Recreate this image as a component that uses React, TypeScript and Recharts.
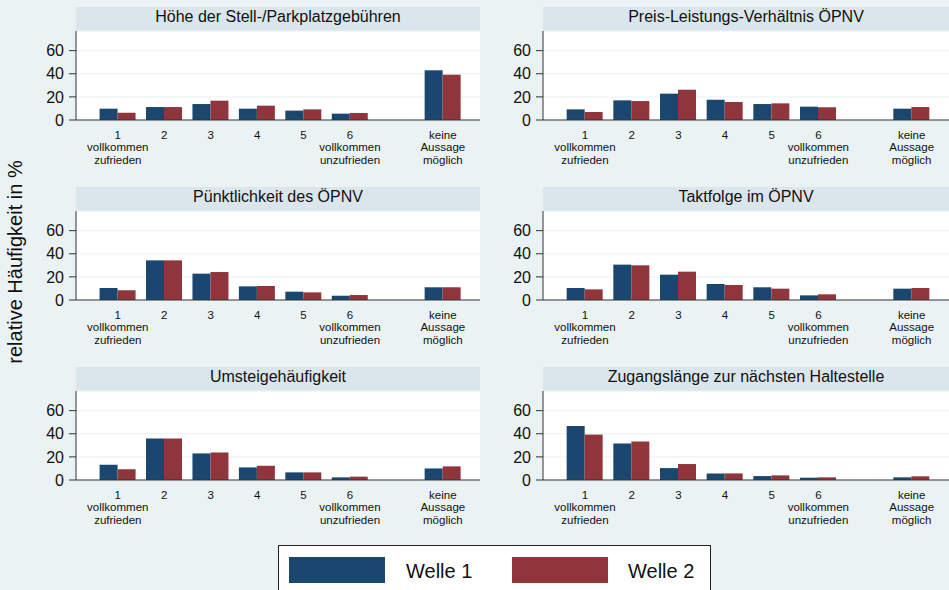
import React from "react";
import { BarChart, Bar, XAxis, YAxis, CartesianGrid } from "recharts";

// answer categories (6-point scale + "no answer")
const categories = ["1", "2", "3", "4", "5", "6", "keine Aussage möglich"];
const tickLabels = [
  ["1", "vollkommen", "zufrieden"],
  ["2"],
  ["3"],
  ["4"],
  ["5"],
  ["6", "vollkommen", "unzufrieden"],
  ["keine", "Aussage", "möglich"],
];
const yTicks = [0, 20, 40, 60];

// relative frequencies in %, Welle 1 / Welle 2
const parkW1 = [9.8, 11.2, 13.8, 9.8, 8.1, 5.5, 43.0];
const parkW2 = [6.3, 11.2, 16.7, 12.4, 9.2, 6.1, 39.2];
const preisW1 = [9.2, 17.0, 22.8, 17.6, 13.8, 11.5, 9.8];
const preisW2 = [6.9, 16.4, 26.2, 15.6, 14.4, 11.0, 11.2];
const puenktW1 = [10.4, 34.3, 22.8, 11.8, 7.2, 3.7, 11.0];
const puenktW2 = [8.4, 34.3, 24.2, 12.1, 6.6, 4.3, 11.0];
const taktW1 = [10.4, 30.6, 21.9, 13.8, 11.0, 4.0, 9.8];
const taktW2 = [9.2, 30.0, 24.5, 13.0, 9.8, 4.9, 10.4];
const umstW1 = [13.2, 35.9, 23.0, 10.9, 6.6, 2.3, 10.0];
const umstW2 = [9.2, 35.9, 23.8, 12.3, 6.6, 2.9, 11.8];
const zugangW1 = [46.8, 31.6, 10.3, 5.7, 3.4, 2.0, 2.3];
const zugangW2 = [39.3, 33.3, 13.8, 5.7, 4.0, 2.3, 3.2];

const panels = [
  { title: "Höhe der Stell-/Parkplatzgebühren", w1: parkW1, w2: parkW2 },
  { title: "Preis-Leistungs-Verhältnis ÖPNV", w1: preisW1, w2: preisW2 },
  { title: "Pünktlichkeit des ÖPNV", w1: puenktW1, w2: puenktW2 },
  { title: "Taktfolge im ÖPNV", w1: taktW1, w2: taktW2 },
  { title: "Umsteigehäufigkeit", w1: umstW1, w2: umstW2 },
  { title: "Zugangslänge zur nächsten Haltestelle", w1: zugangW1, w2: zugangW2 },
];

const BLUE = "#1a476f";
const RED = "#90353b";
const BG = "#eaf2f3";
const STRIP = "#dae6eb";
const FONT = "'Liberation Sans', Arial, sans-serif";

// leave an empty slot between "6" and "keine Aussage"
const pos = (i: number) => (i < 6 ? i + 1 : i + 2);
const xTicks = categories.map((_, i) => pos(i));

function CatTick(props: any) {
  const { x, y, payload } = props;
  const lines = tickLabels[xTicks.indexOf(payload.value)] || [];
  return (
    <g>
      {lines.map((l, k) => (
        <text
          key={k}
          x={x}
          y={y + 18.5 + k * 12.5}
          textAnchor="middle"
          fontSize={11.5}
          fill="#111"
          fontFamily={FONT}
        >
          {l}
        </text>
      ))}
    </g>
  );
}

function Panel({ p, left, top, width }: any) {
  const data = categories.map((c, i) => ({ name: c, pos: pos(i), w1: p.w1[i], w2: p.w2[i] }));
  return (
    <div style={{ position: "absolute", left, top, width, height: 170 }}>
      <div
        style={{
          position: "absolute",
          left: 76,
          top: 7,
          width: width - 76,
          height: 24,
          lineHeight: "20px",
          background: STRIP,
          textAlign: "center",
          fontSize: 16,
          color: "#111",
        }}
      >
        {p.title}
      </div>
      <BarChart
        width={width}
        height={170}
        data={data}
        margin={{ top: 31, right: 0, left: 0, bottom: 0 }}
        barGap={0}
      >
        <CartesianGrid vertical={false} stroke={BG} fill="#ffffff" fillOpacity={1} />
        <XAxis
          dataKey="pos"
          type="number"
          domain={[0.1, 8.8]}
          ticks={xTicks}
          interval={0}
          allowDataOverflow
          tickLine={false}
          tickSize={0}
          tickMargin={0}
          height={50}
          axisLine={{ stroke: "#333" }}
          tick={<CatTick />}
        />
        <YAxis
          width={76}
          domain={[0, 77]}
          ticks={yTicks}
          interval={0}
          allowDataOverflow
          tickSize={7}
          tickMargin={5}
          axisLine={{ stroke: "#333" }}
          tickLine={{ stroke: "#333" }}
          tick={{ fontSize: 16, fill: "#111", fontFamily: FONT }}
        />
        <Bar dataKey="w1" fill={BLUE} barSize={18} isAnimationActive={false} />
        <Bar dataKey="w2" fill={RED} barSize={18} isAnimationActive={false} />
      </BarChart>
    </div>
  );
}

export default function App() {
  return (
    <div
      style={{
        position: "absolute",
        left: 0,
        top: 0,
        width: 949,
        height: 590,
        background: BG,
        overflow: "hidden",
        fontFamily: FONT,
      }}
    >
      {panels.map((p, i) => {
        const col = i % 2;
        const row = Math.floor(i / 2);
        return (
          <Panel
            key={p.title}
            p={p}
            left={col === 0 ? 0 : 467}
            top={row * 180}
            width={col === 0 ? 480 : 482}
          />
        );
      })}
      <svg
        width={949}
        height={590}
        style={{ position: "absolute", left: 0, top: 0, pointerEvents: "none" }}
      >
        <text
          x={22}
          y={262}
          transform="rotate(-90 22 262)"
          textAnchor="middle"
          fontSize={20}
          fill="#111"
          fontFamily={FONT}
        >
          relative Häufigkeit in %
        </text>
        <rect x={278.5} y={545.5} width={432} height={60} fill="#fff" stroke="#222" />
        <rect x={289} y={557} width={96} height={26} fill={BLUE} />
        <text x={406} y={577.5} fontSize={20} fill="#111" fontFamily={FONT}>
          Welle 1
        </text>
        <rect x={512} y={557} width={96} height={26} fill={RED} />
        <text x={628} y={577.5} fontSize={20} fill="#111" fontFamily={FONT}>
          Welle 2
        </text>
      </svg>
    </div>
  );
}
